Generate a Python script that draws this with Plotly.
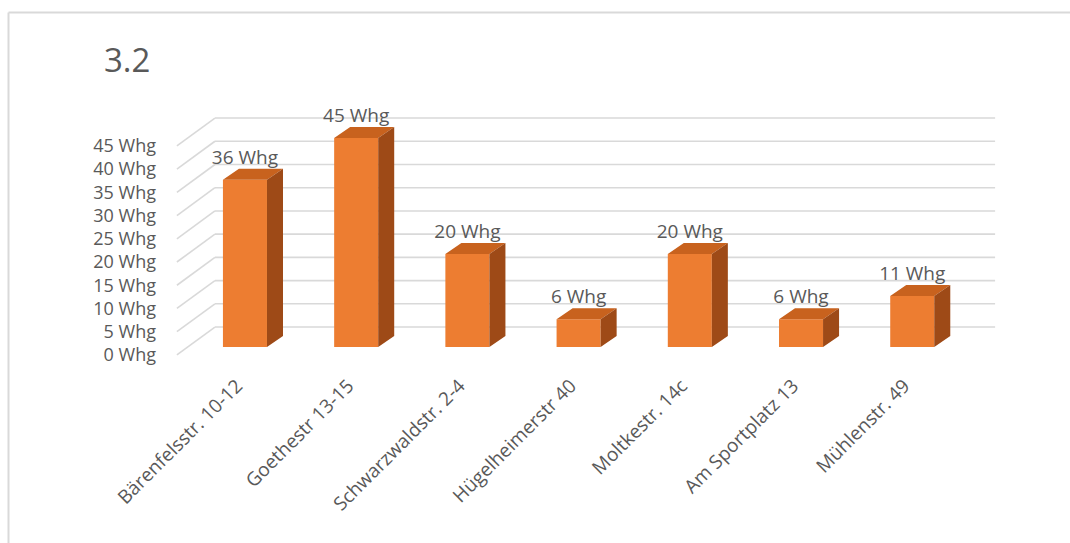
import plotly.graph_objects as go

# Apartments (Wohnungen) per address
categories = [
    "Bärenfelsstr. 10-12",
    "Goethestr 13-15",
    "Schwarzwaldstr. 2-4",
    "Hügelheimerstr 40",
    "Moltkestr. 14c",
    "Am Sportplatz 13",
    "Mühlenstr. 49",
]
units = [36, 45, 20, 6, 20, 6, 11]
tick_values = [0, 5, 10, 15, 20, 25, 30, 35, 40, 45]
tick_labels = [f"{v} Whg" for v in tick_values]

# figure / plot-area geometry (pixels)
W, H = 1070, 543
L, R, T, B = 163, 1010, 100, 370
X_RANGE = [-0.737, 6.879]
Y_RANGE = [-4.953, 53.187]

# pseudo-3D geometry in data units
BAR_W = 0.396          # width of the bar front face
DEPTH_X, DEPTH_Y = 0.144, 2.37   # depth of each bar (top/side faces)
FLOOR_FRONT_X = -0.612  # front-left corner of the floor
WALL_X = -0.27          # left edge of the back wall
WALL_RIGHT = 6.745      # right edge of the back wall
LABEL_SHIFT = 1.7       # front edge of floor sits below the bar base
WALL_RISE = 6.0         # back wall lines sit above the front edge

ORANGE = "#ED7D31"
ORANGE_TOP = "#C8621E"
ORANGE_SIDE = "#9E4A17"
GRID = "#D9D9D9"
TEXT = "#595959"
FONT = "Open Sans"

fig = go.Figure()

# back wall + left wall grid lines (drawn below the bars)
shapes = []
for v in tick_values:
    shapes.append(dict(type="line", xref="x", yref="y2", layer="below",
                       x0=WALL_X, x1=WALL_RIGHT, y0=v + WALL_RISE, y1=v + WALL_RISE,
                       line=dict(color=GRID, width=1.6)))
    shapes.append(dict(type="line", xref="x", yref="y2", layer="below",
                       x0=FLOOR_FRONT_X, x1=WALL_X, y0=v, y1=v + WALL_RISE,
                       line=dict(color=GRID, width=1.6)))

# chart frame (only top and left edges fall inside the image)
def px_to_paper_x(px):
    return (px - L) / (R - L)

def px_to_paper_y(py):
    return (B - py) / (B - T)

shapes.append(dict(type="line", xref="paper", yref="paper", layer="below",
                   x0=px_to_paper_x(8.5), x1=px_to_paper_x(1075),
                   y0=px_to_paper_y(12.5), y1=px_to_paper_y(12.5),
                   line=dict(color=GRID, width=2)))
shapes.append(dict(type="line", xref="paper", yref="paper", layer="below",
                   x0=px_to_paper_x(8.5), x1=px_to_paper_x(8.5),
                   y0=px_to_paper_y(12.5), y1=px_to_paper_y(550),
                   line=dict(color=GRID, width=2)))

# bar front faces
fig.add_trace(go.Bar(
    x=list(range(len(units))), y=units, width=BAR_W,
    marker=dict(color=ORANGE, line=dict(width=0)),
    hoverinfo="skip",
))

# top and side faces built from the same values
top_x, top_y, side_x, side_y = [], [], [], []
for i, v in enumerate(units):
    xl, xr = i - BAR_W / 2, i + BAR_W / 2
    top_x += [xl, xr, xr + DEPTH_X, xl + DEPTH_X, xl, None]
    top_y += [v, v, v + DEPTH_Y, v + DEPTH_Y, v, None]
    side_x += [xr, xr, xr + DEPTH_X, xr + DEPTH_X, xr, None]
    side_y += [0, v, v + DEPTH_Y, DEPTH_Y, 0, None]

fig.add_trace(go.Scatter(x=top_x, y=top_y, mode="lines", fill="toself",
                         fillcolor=ORANGE_TOP, line=dict(width=0, color=ORANGE_TOP),
                         hoverinfo="skip"))
fig.add_trace(go.Scatter(x=side_x, y=side_y, mode="lines", fill="toself",
                         fillcolor=ORANGE_SIDE, line=dict(width=0, color=ORANGE_SIDE),
                         hoverinfo="skip"))

# value labels above each bar
fig.add_trace(go.Scatter(
    x=list(range(len(units))), y=[v + DEPTH_Y for v in units],
    mode="text", text=[f"{v} Whg" for v in units], textposition="top center",
    textfont=dict(family=FONT, size=19, color=TEXT), hoverinfo="skip",
))

fig.update_layout(
    width=W, height=H,
    margin=dict(l=L, r=W - R, t=T, b=H - B),
    paper_bgcolor="white", plot_bgcolor="white",
    showlegend=False,
    shapes=shapes,
    title=dict(text="3.2", x=104 / W, xanchor="left", xref="container",
               y=1 - 60 / H, yanchor="middle", yref="container",
               font=dict(family=FONT, size=33, color=TEXT)),
    xaxis=dict(range=X_RANGE, tickmode="array", tickvals=list(range(len(categories))),
               ticktext=categories, tickangle=-45, ticklabelshift=-8,
               showgrid=False, zeroline=False, showline=False, ticks="",
               tickfont=dict(family=FONT, size=19, color=TEXT)),
    yaxis=dict(range=Y_RANGE, visible=False, showgrid=False, zeroline=False),
    yaxis2=dict(range=[Y_RANGE[0] + LABEL_SHIFT, Y_RANGE[1] + LABEL_SHIFT],
                overlaying="y", side="left", tickmode="array",
                tickvals=tick_values, ticktext=tick_labels, ticklabelstandoff=6,
                showgrid=False, zeroline=False, showline=False, ticks="",
                tickfont=dict(family=FONT, size=18, color=TEXT)),
)

fig.write_html("out.html")
